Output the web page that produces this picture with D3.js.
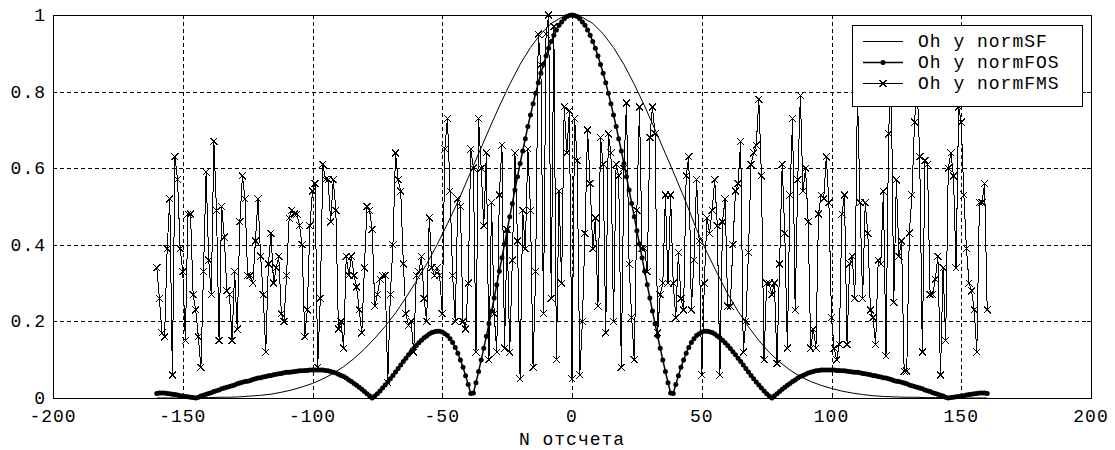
<!DOCTYPE html>
<html lang="ru">
<head>
<meta charset="UTF-8" />
<script src="https://d3js.org/d3.v7.min.js"></script>
<title>normSF / normFOS / normFMS</title>
<style>
  body { margin: 0; background: #fff; }
  svg text { font-family: "Liberation Mono", "Courier New", monospace; font-size: 18px; letter-spacing: 1px; fill: #000; }
</style>
</head>
<body>
<svg id="chart" width="1115" height="450"></svg>
<script>
// отсчеты normFOS и normFMS: от -160 до 160 с шагом 1
var nFirst = -160;

// normSF читается через каждые 4 отсчета (гладкая кривая)
var sfStep = 4;
var normSF = [
  0, 0, 0, .001, .001, .001, .002, .002, .003, .005,          // -160
  .007, .010, .015, .021, .029, .038, .050, .064, .082, .103, // -120
  .128, .156, .187, .222, .262, .305, .350, .400, .455, .512, // -80
  .575, .638, .701, .762, .819, .871, .915, .951, .978, .994, // -40
  1,
  .994, .978, .951, .915, .871, .819, .762, .701, .638, .575, // 4
  .510, .440, .380, .325, .272, .226, .186, .150, .119, .094, // 44
  .073, .056, .043, .033, .025, .018, .013, .009, .006, .004, // 84
  .003, .002, .002, .001, .001, .001, .001, 0, 0, 0           // 124
];

var normFOS = [
  // -160 .. -146
  .012, .013, .013, .013, .012, .011, .010, .009, .008, .006, .005, .004, .003, .002, .001,
  0,
  // -144 .. -97
  .002, .005, .007, .010, .012, .014, .017, .019, .021, .024, .026, .028, .030, .032, .034, .037,
  .039, .041, .043, .044, .046, .048, .050, .052, .053, .055, .056, .058, .059, .061, .062, .063,
  .064, .066, .067, .067, .068, .069, .070, .071, .071, .072, .072, .073, .073, .073, .073, .073,
  // -96 .. -78
  .073, .072, .071, .069, .067, .065, .062, .059, .056, .052, .047, .043, .038, .033, .028, .023, .017, .011, .006,
  0,
  // -76 .. -39
  .005, .011, .018, .026, .034, .042, .050, .059, .068, .077, .086, .095, .104, .113, .121, .129, .137, .144, .151,
  .157, .162, .167, .171, .173, .174, .174, .172, .168, .163, .155, .145, .132, .117, .099, .080, .058, .035, .012,
  // -38 .. -1
  .013, .040, .069, .099, .130, .161, .194, .227, .261, .296, .331, .366, .402, .437, .473, .508, .543, .578, .612,
  .645, .677, .709, .739, .768, .796, .823, .848, .871, .893, .913, .931, .947, .961, .973, .982, .990, .996, .999,
  1,
  // 1 .. 38
  .999, .996, .990, .982, .973, .961, .947, .931, .913, .893, .871, .848, .823, .796, .768, .739, .709, .677, .645,
  .612, .578, .543, .508, .473, .437, .402, .366, .331, .296, .261, .227, .194, .161, .130, .099, .069, .040, .013,
  // 39 .. 76
  .012, .035, .058, .080, .099, .117, .132, .145, .155, .163, .168, .172, .174, .174, .173, .171, .167, .162, .157,
  .151, .144, .137, .129, .121, .113, .104, .095, .086, .077, .068, .059, .050, .042, .034, .026, .018, .011, .005,
  0,
  // 78 .. 96
  .006, .011, .017, .023, .028, .033, .038, .043, .047, .052, .056, .059, .062, .065, .067, .069, .071, .072, .073,
  // 97 .. 144
  .073, .073, .073, .073, .073, .072, .072, .071, .071, .070, .069, .068, .067, .067, .066, .064,
  .063, .062, .061, .059, .058, .056, .055, .053, .052, .050, .048, .046, .044, .043, .041, .039,
  .037, .034, .032, .030, .028, .026, .024, .021, .019, .017, .014, .012, .010, .007, .005, .002,
  0,
  // 146 .. 160
  .001, .002, .003, .004, .005, .006, .008, .009, .010, .011, .012, .013, .013, .013, .012
];

var normFMS = [
  .34, .26, .17, .16, .39, .52, .06, .63, .57, .39,   // -160
  .33, .15, .48, .48, .27, .23, .16, .08, .33, .59,   // -150
  .36, .27, .67, .49, .15, .50, .42, .28, .27, .15,   // -140
  .33, .18, .46, .58, .52, .32, .32, .30, .41, .52,   // -130
  .37, .27, .12, .35, .43, .30, .34, .37, .22, .20,   // -120
  .32, .47, .49, .48, .48, .45, .40, .16, .23, .45,   // -110
  .54, .56, .08, .26, .61, .57, .57, .46, .57, .49,   // -100
  .18, .20, .13, .37, .32, .37, .32, .29, .23, .17,   // -90
  .34, .50, .49, .44, .24, .27, .31, .32, .32, .04,   // -80
  .27, .40, .64, .57, .54, .35, .22, .19, .20, .12,   // -70
  .32, .33, .37, .26, .20, .47, .34, .32, .34, .32,   // -60
  .22, .65, .73, .54, .32, .20, .52, .50, .20, .18,   // -50
  .30, .65, .60, .12, .73, .60, .45, .64, .10, .51,   // -40
  .22, .12, .53, .66, .13, .44, .12, .36, .64, .41,   // -30
  .05, .49, .39, .65, .49, .08, .33, .95, .87, .22,   // -20
  .95, 1.0, .26, .97, .10, .54, .30, .76, .64, .75,   // -10
  .05, .73, .62, .06, .20, .43, .70, .56, .39, .47,   // 0
  .24, .68, .61, .17, .69, .64, .20, .61, .58, .08,   // 10
  .60, .77, .35, .21, .10, .49, .76, .39, .39, .33,   // 20
  .68, .76, .69, .17, .27, .30, .53, .30, .53, .30,   // 30
  .21, .38, .26, .23, .58, .63, .23, .36, .57, .41,   // 40
  .06, .30, .47, .43, .49, .57, .45, .06, .46, .52,   // 50
  .24, .24, .40, .54, .56, .67, .12, .20, .38, .61,   // 60
  .64, .66, .78, .58, .10, .30, .30, .27, .30, .09,   // 70
  .35, .61, .43, .13, .53, .73, .23, .57, .79, .54,   // 80
  .60, .46, .13, .18, .13, .48, .53, .52, .63, .51,   // 90
  .21, .13, .10, .14, .48, .53, .14, .35, .37, .26,   // 100
  .80, .51, .26, .51, .43, .23, .21, .14, .36, .35,   // 110
  .54, .11, .69, .84, .25, .57, .37, .41, .07, .07,   // 120
  .43, .53, .72, .82, .63, .12, .62, .61, .27, .27,   // 130
  .31, .37, .06, .34, .15, .60, .64, .58, .34, .76,   // 140
  .72, .53, .39, .30, .28, .23, .12, .51, .51, .56,   // 150
  .23                                                 // 160
];

var xTicks = [-200, -150, -100, -50, 0, 50, 100, 150, 200];
var yTicks = [0, 0.2, 0.4, 0.6, 0.8, 1];
var legendNames = ["Oh y normSF", "Oh y normFOS", "Oh y normFMS"];
var xTitle = "N отсчета";

var svg = d3.select("#chart");
// границы области осей (top нельзя — это window.top)
var axL = 53, axR = 1091, axT = 15, axB = 398;

var x = d3.scaleLinear().domain([-200, 200]).range([axL, axR]);
var y = d3.scaleLinear().domain([0, 1]).range([axB, axT]);

svg.append("rect").attr("width", 1115).attr("height", 450).attr("fill", "#fff");

// сетка
var grid = svg.append("g")
  .attr("stroke", "#000")
  .attr("stroke-width", 1)
  .attr("stroke-dasharray", "4,3")
  .attr("shape-rendering", "crispEdges");
grid.selectAll(".gx").data(xTicks.slice(1, -1)).enter().append("line")
  .attr("x1", d => Math.round(x(d)) + 0.5).attr("x2", d => Math.round(x(d)) + 0.5)
  .attr("y1", axT).attr("y2", axB);
grid.selectAll(".gy").data(yTicks.slice(1, -1)).enter().append("line")
  .attr("y1", d => Math.round(y(d)) + 0.5).attr("y2", d => Math.round(y(d)) + 0.5)
  .attr("x1", axL).attr("x2", axR);

// кривые
var sfData = normSF.map((v, i) => [nFirst + i * sfStep, v]);
var fosData = normFOS.map((v, i) => [nFirst + i, v]);
var fmsData = normFMS.map((v, i) => [nFirst + i, v]);

var line = d3.line().x(d => x(d[0])).y(d => y(d[1]));

svg.append("path").datum(sfData)
  .attr("d", line).attr("fill", "none").attr("stroke", "#000").attr("stroke-width", 1);

svg.append("path").datum(fosData)
  .attr("d", line).attr("fill", "none").attr("stroke", "#000").attr("stroke-width", 1.5);
svg.append("g").selectAll("circle").data(fosData).enter().append("circle")
  .attr("cx", d => x(d[0])).attr("cy", d => y(d[1])).attr("r", 2.5).attr("fill", "#000");

var fms = svg.append("g").attr("shape-rendering", "crispEdges");
fms.append("path").datum(fmsData)
  .attr("d", line).attr("fill", "none").attr("stroke", "#000").attr("stroke-width", 1);
var cross = "M-3.5,-3.5L3.5,3.5M-3.5,3.5L3.5,-3.5";
fms.append("g").selectAll("path").data(fmsData).enter().append("path")
  .attr("d", cross)
  .attr("transform", d => "translate(" + x(d[0]) + "," + y(d[1]) + ")")
  .attr("stroke", "#000").attr("stroke-width", 1).attr("fill", "none");

// рамка осей и штрихи
svg.append("rect")
  .attr("x", axL + 0.5).attr("y", axT + 0.5)
  .attr("width", axR - axL).attr("height", axB - axT)
  .attr("fill", "none").attr("stroke", "#000").attr("shape-rendering", "crispEdges");

var ticks = svg.append("g").attr("stroke", "#000").attr("shape-rendering", "crispEdges");
xTicks.forEach(function (d) {
  var px = Math.round(x(d)) + 0.5;
  ticks.append("line").attr("x1", px).attr("x2", px).attr("y1", axB).attr("y2", axB - 4);
  ticks.append("line").attr("x1", px).attr("x2", px).attr("y1", axT).attr("y2", axT + 4);
});
yTicks.forEach(function (d) {
  var py = Math.round(y(d)) + 0.5;
  ticks.append("line").attr("x1", axL).attr("x2", axL + 4).attr("y1", py).attr("y2", py);
  ticks.append("line").attr("x1", axR).attr("x2", axR - 4).attr("y1", py).attr("y2", py);
});

// подписи
svg.append("g").selectAll("text").data(xTicks).enter().append("text")
  .attr("x", d => x(d)).attr("y", 422)
  .attr("text-anchor", "middle")
  .text(d => d);

svg.append("g").selectAll("text").data(yTicks).enter().append("text")
  .attr("x", 46).attr("y", d => y(d) + 6)
  .attr("text-anchor", "end")
  .text(d => d);

svg.append("text")
  .attr("x", x(0)).attr("y", 445)
  .attr("text-anchor", "middle")
  .text(xTitle);

// легенда
var lg = svg.append("g");
lg.append("rect")
  .attr("x", 852.5).attr("y", 25.5).attr("width", 230).attr("height", 81)
  .attr("fill", "#fff").attr("stroke", "#000").attr("shape-rendering", "crispEdges");
legendNames.forEach(function (name, i) {
  var cy = 41 + i * 21;
  lg.append("line").attr("x1", 863).attr("x2", 903).attr("y1", cy + 0.5).attr("y2", cy + 0.5)
    .attr("stroke", "#000").attr("stroke-width", i === 1 ? 1.5 : 1);
  if (i === 1) {
    lg.append("circle").attr("cx", 883).attr("cy", cy + 0.5).attr("r", 2.5).attr("fill", "#000");
  }
  if (i === 2) {
    lg.append("path").attr("d", cross).attr("transform", "translate(883," + (cy + 0.5) + ")")
      .attr("stroke", "#000").attr("fill", "none").attr("shape-rendering", "crispEdges");
  }
  lg.append("text").attr("x", 918).attr("y", cy + 6).text(name);
});
</script>
</body>
</html>
